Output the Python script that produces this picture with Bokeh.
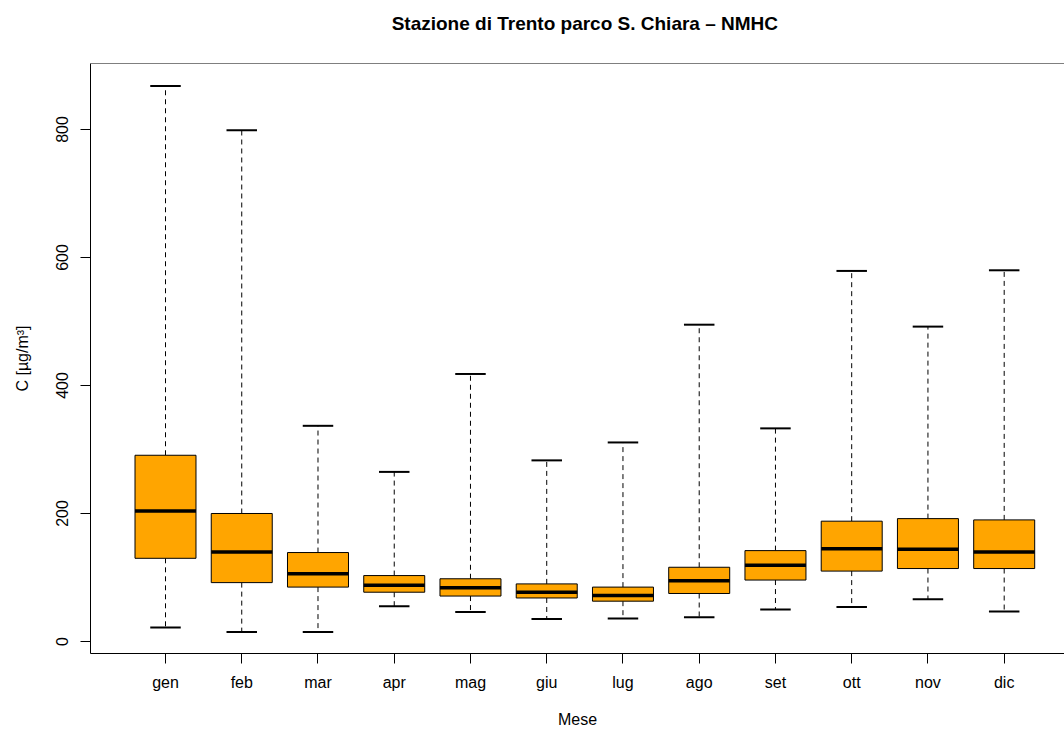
from bokeh.plotting import figure
from bokeh.models import Range1d, FixedTicker, ColumnDataSource, Span, Label
from bokeh.embed import file_html
from bokeh.resources import INLINE

# ---- data ----
months = ["gen", "feb", "mar", "apr", "mag", "giu", "lug", "ago", "set", "ott", "nov", "dic"]
whisk_hi = [868, 799, 337, 265, 418, 283, 311, 495, 333, 579, 492, 580]
q3 = [291, 200, 139, 103, 98, 90, 85, 116, 142, 188, 192, 190]
median = [204, 140, 106, 88, 84, 77, 72, 95, 119, 145, 144, 140]
q1 = [130, 92, 85, 77, 71, 68, 63, 75, 96, 110, 114, 114]
whisk_lo = [22, 15, 15, 55, 46, 35, 36, 38, 50, 54, 66, 47]
y_ticks = [0, 200, 400, 600, 800]
title_text = "Stazione di Trento parco S. Chiara \u2013 NMHC"

FONT = "Liberation Sans"
BOX_W = 0.8
STAPLE_W = 0.4

pos = list(range(1, len(months) + 1))
src = ColumnDataSource(dict(
    x=pos, q1=q1, q3=q3, med=median, lo=whisk_lo, hi=whisk_hi,
    bl=[x - BOX_W / 2 for x in pos], br=[x + BOX_W / 2 for x in pos],
    sl=[x - STAPLE_W / 2 for x in pos], sr=[x + STAPLE_W / 2 for x in pos],
))

Y0, Y1 = -18.75, 903.1
p = figure(width=1064, height=730,
           x_range=Range1d(0.0163, 12.791), y_range=Range1d(Y0, Y1),
           output_backend="svg", toolbar_location=None,
           min_border_left=90, min_border_right=0, min_border_top=63, min_border_bottom=77)

p.background_fill_color = "white"
p.border_fill_color = "white"
p.outline_line_color = None
p.xgrid.visible = False
p.ygrid.visible = False

# title centred over the whole (R) plot region, placed above the frame
title_y = Y1 + (Y1 - Y0) * 40.0 / 590.0
p.add_layout(Label(x=(1 + len(months)) / 2, y=title_y, x_units="data", y_units="data",
                   text=title_text, text_font=FONT, text_font_size="19px",
                   text_font_style="bold", text_color="black",
                   text_align="center", text_baseline="middle"), "above")

# top frame line
p.add_layout(Span(location=Y1, dimension="width", line_color="black", line_width=1))

for ax in (p.xaxis[0], p.yaxis[0]):
    ax.axis_line_color = "black"
    ax.axis_line_width = 1
    ax.major_tick_line_color = "black"
    ax.major_tick_in = 0
    ax.major_tick_out = 10
    ax.minor_tick_in = 0
    ax.minor_tick_out = 0
    ax.major_label_text_font = FONT
    ax.major_label_text_font_size = "16px"
    ax.major_label_text_color = "black"
    ax.axis_label_text_font = FONT
    ax.axis_label_text_font_size = "16px"
    ax.axis_label_text_font_style = "normal"
    ax.axis_label_text_color = "black"

p.xaxis.ticker = FixedTicker(ticks=pos)
p.xaxis.major_label_overrides = {i: m for i, m in zip(pos, months)}
p.xaxis.major_label_standoff = 10
p.xaxis.axis_label = "Mese"
p.xaxis.axis_label_standoff = 17

p.yaxis.ticker = FixedTicker(ticks=y_ticks)
p.yaxis.major_label_orientation = "parallel"
p.yaxis.major_label_standoff = 12
p.yaxis.axis_label = "C [\u00b5g/m\u00b3]"
p.yaxis.axis_label_standoff = 23

# whiskers
p.segment(x0="x", x1="x", y0="q3", y1="hi", source=src, line_color="black",
          line_width=1, line_dash="5 4")
p.segment(x0="x", x1="x", y0="q1", y1="lo", source=src, line_color="black",
          line_width=1, line_dash="5 4")
# staples
p.segment(x0="sl", x1="sr", y0="hi", y1="hi", source=src, line_color="black", line_width=2)
p.segment(x0="sl", x1="sr", y0="lo", y1="lo", source=src, line_color="black", line_width=2)
# boxes
p.vbar(x="x", width=BOX_W, top="q3", bottom="q1", source=src,
       fill_color="#FFA500", line_color="black", line_width=1)
# medians
p.segment(x0="bl", x1="br", y0="med", y1="med", source=src, line_color="black",
          line_width=3.5, line_cap="butt")

open("out.html", "w").write(file_html(p, INLINE))
